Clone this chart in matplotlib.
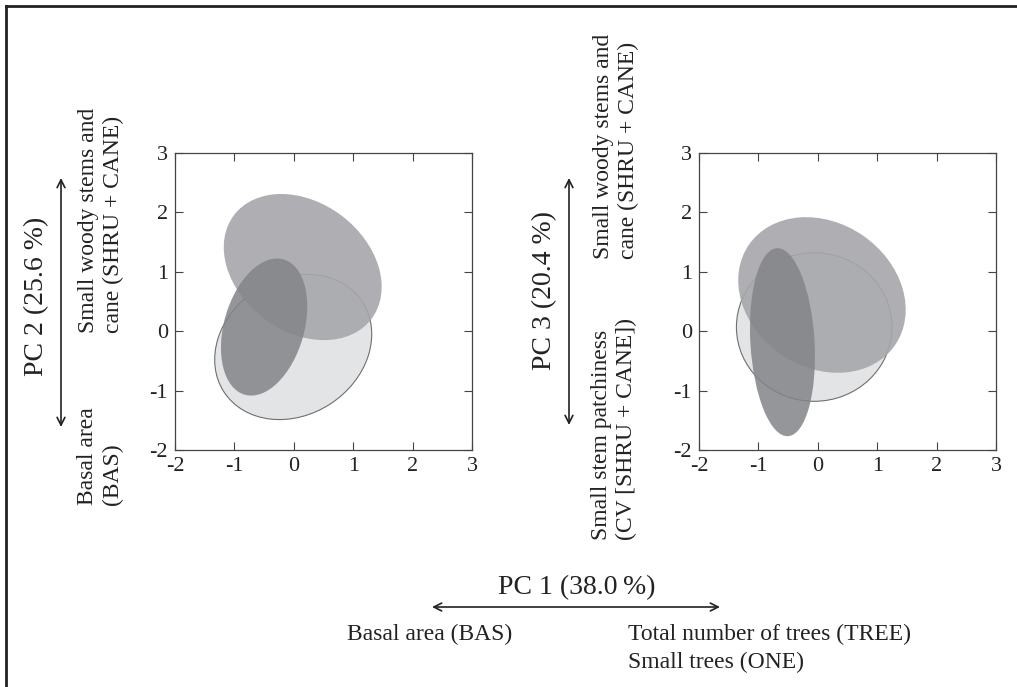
import matplotlib
matplotlib.use("Agg")
import matplotlib.pyplot as plt
from matplotlib.patches import Ellipse, FancyArrowPatch
from matplotlib.lines import Line2D

plt.rcParams['font.family'] = ['Liberation Serif', 'DejaVu Serif']

W, H = 1017, 687

# Ellipse data per panel: order = [medium group, dark narrow group, light outlined group]
groups = ["medium", "dark", "light"]
left_cx = [0.15, -0.50, -0.01]
left_cy = [1.08, 0.07, -0.265]
left_w = [2.90, 2.37, 2.78]
left_h = [2.17, 1.35, 2.29]
left_ang = [-37, 74, 33]

right_cx = [0.07, -0.595, -0.06]
right_cy = [0.61, -0.185, 0.07]
right_w = [2.985, 3.17, 2.62]
right_h = [2.43, 1.08, 2.50]
right_ang = [-34.4, 93.4, 0]

ticks = [-2, -1, 0, 1, 2, 3]
tick_labels = ["-2", "-1", "0", "1", "2", "3"]

fig = plt.figure(figsize=(W / 100, H / 100), dpi=100)

def px(x, y):
    return x / W, 1 - y / H

def draw_panel(left_px, cx, cy, w, h, ang):
    ax = fig.add_axes([left_px / W, 1 - 450 / H, 297 / W, 297 / H])
    ax.set_xlim(-2, 3)
    ax.set_ylim(-2, 3)
    ax.set_xticks(ticks)
    ax.set_xticklabels(tick_labels)
    ax.set_yticks(ticks)
    ax.set_yticklabels(tick_labels)
    ax.tick_params(direction='in', length=6, width=0.8, color='#444444',
                   top=True, right=True, labelsize=16, pad=5, labelcolor='#222222')
    for s in ax.spines.values():
        s.set_linewidth(0.9)
        s.set_color('#444444')
    i = 2
    ax.add_patch(Ellipse((cx[i], cy[i]), w[i], h[i], angle=ang[i],
                         facecolor='#e3e4e6', edgecolor='#6f6f6f', lw=0.8, zorder=1))
    i = 0
    ax.add_patch(Ellipse((cx[i], cy[i]), w[i], h[i], angle=ang[i],
                         facecolor='#a6a7ab', edgecolor='none', alpha=0.9, zorder=2))
    i = 1
    ax.add_patch(Ellipse((cx[i], cy[i]), w[i], h[i], angle=ang[i],
                         facecolor='#838488', edgecolor='none', alpha=0.85, zorder=3))
    return ax

draw_panel(175, left_cx, left_cy, left_w, left_h, left_ang)
draw_panel(699, right_cx, right_cy, right_w, right_h, right_ang)

tc = '#222222'
fig.text(*px(37, 296), "PC 2 (25.6 %)", rotation=90, ha='center', va='center', fontsize=20, color=tc)
fig.text(*px(545, 291), "PC 3 (20.4 %)", rotation=90, ha='center', va='center', fontsize=20, color=tc)

fig.text(*px(101, 333), "Small woody stems and\ncane (SHRU + CANE)", rotation=90,
         ha='center', va='bottom', multialignment='left', fontsize=17, linespacing=1.2, color=tc)
fig.text(*px(100, 505), "Basal area\n(BAS)", rotation=90,
         ha='center', va='bottom', multialignment='left', fontsize=17, linespacing=1.2, color=tc)
fig.text(*px(616, 259), "Small woody stems and\ncane (SHRU + CANE)", rotation=90,
         ha='center', va='bottom', multialignment='left', fontsize=17, linespacing=1.2, color=tc)
fig.text(*px(614, 540), "Small stem patchiness\n(CV [SHRU + CANE])", rotation=90,
         ha='center', va='bottom', multialignment='left', fontsize=17, linespacing=1.2, color=tc)

fig.text(*px(577, 588), "PC 1 (38.0\u2009%)", ha='center', va='center', fontsize=20, color=tc)
fig.text(*px(347, 634), "Basal area (BAS)", ha='left', va='center', fontsize=17, color=tc)
fig.text(*px(628, 634), "Total number of trees (TREE)", ha='left', va='center', fontsize=17, color=tc)
fig.text(*px(628, 662), "Small trees (ONE)", ha='left', va='center', fontsize=17, color=tc)

ap = dict(arrowstyle='<->', lw=1.2, color='#222222', mutation_scale=14, shrinkA=0, shrinkB=0)
fig.add_artist(FancyArrowPatch(px(61, 178), px(61, 427), transform=fig.transFigure, **ap))
fig.add_artist(FancyArrowPatch(px(569, 178), px(569, 425), transform=fig.transFigure, **ap))
fig.add_artist(FancyArrowPatch(px(432, 607), px(720, 607), transform=fig.transFigure, **ap))

fig.add_artist(Line2D([6 / W, 6 / W], [0, 1 - 6 / H], transform=fig.transFigure, lw=2.0, color='#222222'))
fig.add_artist(Line2D([6 / W, 1], [1 - 6 / H, 1 - 6 / H], transform=fig.transFigure, lw=2.0, color='#222222'))

fig.savefig("out.png", dpi=100, facecolor='white')
